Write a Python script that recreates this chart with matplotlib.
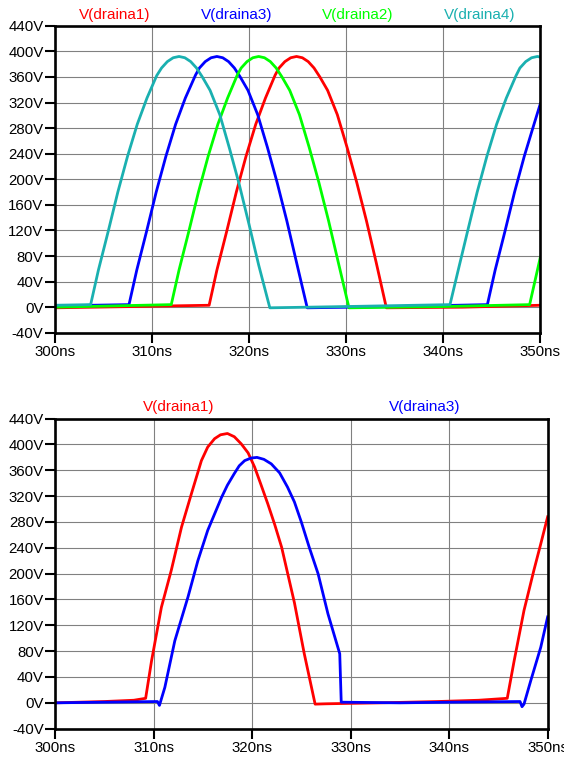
import matplotlib
matplotlib.use("Agg")
import matplotlib.pyplot as plt

plt.rcParams['font.family'] = ['Liberation Sans', 'DejaVu Sans']

# ---- top plot: four drain voltages (ns, V) ----
t_d1_top = [300, 308, 315.9, 316.7, 317.7, 318.7, 319.7, 320.7, 321.7, 322.7, 323.1, 323.7,
            324.3, 324.9, 325.5, 326.1, 326.7, 327.3, 328.1, 329.1, 330.1, 331.1, 332.1,
            333.1, 334.15, 342, 350]
v_d1_top = [-1, 1, 3, 58, 118, 180, 236, 286, 327, 363, 374, 384,
            390, 392, 390, 384, 374, 360, 339, 301, 250, 195, 135,
            70, -1, 0, 3]

t_d3_top = [300, 307.65, 308.45, 309.45, 310.45, 311.45, 312.45, 313.45, 314.5, 314.9, 315.5,
            316.1, 316.7, 317.3, 317.9, 318.5, 319.1, 319.9, 320.9, 321.9, 322.9, 323.9,
            324.9, 326.0, 335, 344.55, 345.35, 346.35, 347.35, 348.35, 349.35, 350]
v_d3_top = [2, 4, 58, 118, 180, 236, 286, 327, 363, 374, 384,
            390, 392, 390, 384, 374, 360, 339, 301, 250, 195, 135,
            70, -1, 1, 4, 58, 118, 180, 236, 286, 318]

t_d2_top = [300, 306, 312.0, 312.8, 313.8, 314.8, 315.8, 316.8, 317.8, 318.8, 319.2, 319.8,
            320.4, 321.0, 321.6, 322.2, 322.8, 323.4, 324.2, 325.2, 326.2, 327.2, 328.2,
            329.2, 330.3, 340, 348.9, 350]
v_d2_top = [0, 2, 4, 58, 118, 180, 236, 286, 327, 363, 374, 384,
            390, 392, 390, 384, 374, 360, 339, 301, 250, 195, 135,
            70, -1, 1, 4, 78]

t_d4_top = [300, 303.7, 304.5, 305.5, 306.5, 307.5, 308.5, 309.5, 310.5, 311.0, 311.6,
            312.2, 312.8, 313.4, 314.0, 314.6, 315.2, 316.0, 317.0, 318.0, 319.0, 320.0,
            321.0, 322.15, 330, 340.7, 341.5, 342.5, 343.5, 344.5, 345.5, 346.5, 347.5,
            347.9, 348.5, 349.1, 349.7, 350]
v_d4_top = [3, 4, 58, 118, 180, 236, 286, 327, 362, 374, 384,
            390, 392, 390, 384, 374, 360, 339, 301, 248, 192, 130,
            66, -1, 1, 4, 55, 118, 180, 236, 286, 327, 362,
            374, 384, 390, 392, 391]

# ---- bottom plot: two drain voltages ----
t_d1_bot = [300, 305, 308, 309.2, 309.8, 310.8, 311.8, 312.84, 313.85, 314.86, 315.5, 316.2,
            316.8, 317.5, 318.2, 318.9, 319.6, 320.26, 320.9, 321.6, 322.3, 323.0, 324.3,
            325.3, 326.4, 327.5, 333, 338.8, 343, 345.9, 346.6, 347.6, 348.6, 349.3, 350]
v_d1_bot = [0, 2, 4, 7, 65, 148, 205, 272, 324, 375, 396, 409,
            415, 417, 412, 401, 387, 365, 338, 308, 276, 241, 155,
            76, -2, -1.5, 0, 2, 4, 7, 65, 143, 205, 246, 288]

t_d3_bot = [300, 305, 310.4, 310.6, 311.15, 312.16, 313.5, 314.5, 315.5, 316.9, 317.5, 318.2,
            318.7, 319.25, 319.9, 320.5, 321.2, 321.95, 322.8, 323.6, 324.3, 325.0, 325.8,
            326.7, 327.7, 328.9, 329.05, 335, 340, 347.2, 347.4, 347.6, 348.3, 349.3, 350]
v_d3_bot = [0, 1, 2, -4, 24, 96, 164, 220, 267, 318, 337, 355,
            367, 375, 379, 380, 377, 370, 356, 334, 311, 280, 241,
            200, 138, 76, 1, 0, 1, 2, -6, -2, 35, 86, 133]

y_ticks = list(range(-40, 441, 40))
x_ticks = list(range(300, 351, 10))

RED = '#ff0000'
BLUE = '#0000ff'
GREEN = '#00ff00'
TEAL = '#1ab0b0'


def style_axes(ax):
    ax.set_xlim(300, 350)
    ax.set_ylim(-40, 440)
    ax.set_xticks(x_ticks)
    ax.set_xticklabels([f"{t}ns" for t in x_ticks])
    ax.set_yticks(y_ticks)
    ax.set_yticklabels([f"{v}V" for v in y_ticks])
    ax.grid(True, color='#808080', lw=0.8)
    ax.set_axisbelow(True)
    for s in ax.spines.values():
        s.set_linewidth(1.9)
        s.set_color('black')
        s.set_zorder(5)
    ax.tick_params(direction='out', length=7.5, width=1.5, labelsize=10.8,
                   pad=0.5, colors='black')
    ax.tick_params(axis='x', pad=1.5)


fig = plt.figure(figsize=(5.64, 7.58), dpi=100)

ax1 = fig.add_axes([0.097, 0.561, 0.861, 0.405])
ax1.plot(t_d1_top, v_d1_top, color=RED, lw=2.0)
ax1.plot(t_d3_top, v_d3_top, color=BLUE, lw=2.0)
ax1.plot(t_d2_top, v_d2_top, color=GREEN, lw=2.0)
ax1.plot(t_d4_top, v_d4_top, color=TEAL, lw=2.0)
style_axes(ax1)

ax2 = fig.add_axes([0.0975, 0.0387, 0.8735, 0.409])
ax2.plot(t_d1_bot, v_d1_bot, color=RED, lw=2.0)
ax2.plot(t_d3_bot, v_d3_bot, color=BLUE, lw=2.0)
style_axes(ax2)

# trace names above each plot
top_names = [("V(draina1)", 115, RED), ("V(draina3)", 237, BLUE),
             ("V(draina2)", 358, GREEN), ("V(draina4)", 480, TEAL)]
for name, xp, c in top_names:
    fig.text(xp / 564, 1 - 15 / 758, name, color=c, fontsize=11, ha='center', va='center')

bot_names = [("V(draina1)", 179, RED), ("V(draina3)", 425, BLUE)]
for name, xp, c in bot_names:
    fig.text(xp / 564, 1 - 407 / 758, name, color=c, fontsize=11, ha='center', va='center')

fig.savefig("out.png", dpi=100)
